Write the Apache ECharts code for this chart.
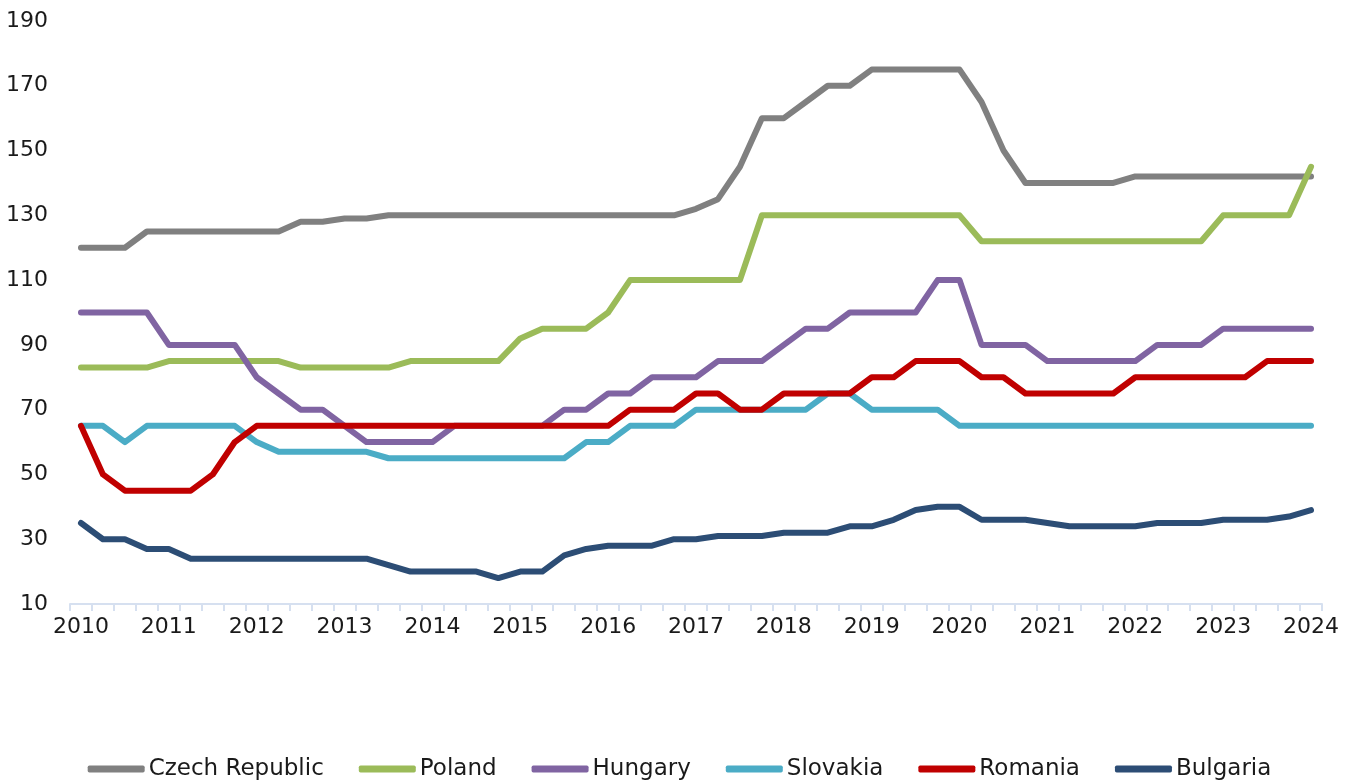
<!DOCTYPE html>
<html lang="en">
<head>
    <meta charset="UTF-8">
    <title>Chart</title>
    <script src="https://cdn.jsdelivr.net/npm/echarts@6/dist/echarts.min.js"></script>
    <style>
        html, body { margin: 0; padding: 0; background: #fff; }
        #main { width: 1359px; height: 783px; }
    </style>
</head>
<body>
<div id="main"></div>
<script type="text/javascript">
    // quarterly points, 2010Q1 .. 2024Q1
    var years = [2010, 2011, 2012, 2013, 2014, 2015, 2016, 2017, 2018, 2019, 2020, 2021, 2022, 2023, 2024];
    var quarters = ['Q1', 'Q2', 'Q3', 'Q4'];

    var czech = [120,120,120,125,125,125,125,125,125,125,128,128,129,129,130,130,130,130,130,130,
        130,130,130,130,130,130,130,130,132,135,145,160,160,165,170,170,175,175,175,175,
        175,165,150,140,140,140,140,140,142,142,142,142,142,142,142,142,142];
    var poland = [83,83,83,83,85,85,85,85,85,85,83,83,83,83,83,85,85,85,85,85,
        92,95,95,95,100,110,110,110,110,110,110,130,130,130,130,130,130,130,130,130,
        130,122,122,122,122,122,122,122,122,122,122,122,130,130,130,130,145];
    var hungary = [100,100,100,100,90,90,90,90,80,75,70,70,65,60,60,60,60,65,65,65,
        65,65,70,70,75,75,80,80,80,85,85,85,90,95,95,100,100,100,100,110,
        110,90,90,90,85,85,85,85,85,90,90,90,95,95,95,95,95];
    var slovakia = [65,65,60,65,65,65,65,65,60,57,57,57,57,57,55,55,55,55,55,55,
        55,55,55,60,60,65,65,65,70,70,70,70,70,70,75,75,70,70,70,70,
        65,65,65,65,65,65,65,65,65,65,65,65,65,65,65,65,65];
    var romania = [65,50,45,45,45,45,50,60,65,65,65,65,65,65,65,65,65,65,65,65,
        65,65,65,65,65,70,70,70,75,75,70,70,75,75,75,75,80,80,85,85,
        85,80,80,75,75,75,75,75,80,80,80,80,80,80,85,85,85];
    var bulgaria = [35,30,30,27,27,24,24,24,24,24,24,24,24,24,22,20,20,20,20,18,
        20,20,25,27,28,28,28,30,30,31,31,31,32,32,32,34,34,36,39,40,
        40,36,36,36,35,34,34,34,34,35,35,35,36,36,36,37,39];

    var seriesNames = ['Czech Republic', 'Poland', 'Hungary', 'Slovakia', 'Romania', 'Bulgaria'];
    var seriesColors = ['#808080', '#9BBB59', '#8064A2', '#4BACC6', '#C00000', '#2C4D75'];
    var seriesData = [czech, poland, hungary, slovakia, romania, bulgaria];

    var yMin = 10, yMax = 190, yStep = 20;

    // build category list (year + quarter), only up to 2024Q1
    var categories = [];
    for (var y = 0; y < years.length; y++) {
        for (var q = 0; q < quarters.length; q++) {
            if (categories.length < czech.length) {
                categories.push(years[y] + quarters[q]);
            }
        }
    }

    var fontName = '"DejaVu Sans", sans-serif';

    var myChart = echarts.init(document.getElementById('main'));

    var series = [];
    for (var i = 0; i < seriesNames.length; i++) {
        series.push({
            name: seriesNames[i],
            type: 'line',
            data: seriesData[i],
            symbol: 'none',
            smooth: false,
            color: seriesColors[i],
            lineStyle: { width: 6, color: seriesColors[i], cap: 'round', join: 'round' }
        });
    }

    var option = {
        animation: false,
        backgroundColor: '#ffffff',
        grid: { left: 70, right: 37, top: 21, bottom: 179, containLabel: false },
        legend: {
            top: 757,
            left: 'center',
            padding: 0,
            icon: 'roundRect',
            itemWidth: 57,
            itemHeight: 7,
            itemGap: 35,
            textStyle: { fontFamily: fontName, fontSize: 23, lineHeight: 24, color: '#1a1a1a', padding: [0, 0, 0, -1] },
            data: seriesNames
        },
        xAxis: {
            type: 'category',
            data: categories,
            boundaryGap: true,
            axisLine: { lineStyle: { color: '#D6E0F0', width: 2 } },
            axisTick: { show: true, interval: 0, length: 7, lineStyle: { color: '#D6E0F0', width: 2 } },
            axisLabel: {
                interval: 3,
                margin: 12,
                fontFamily: fontName,
                fontSize: 22,
                color: '#1a1a1a',
                formatter: function (v) { return v.slice(0, 4); }
            },
            splitLine: { show: false }
        },
        yAxis: {
            type: 'value',
            min: yMin,
            max: yMax,
            interval: yStep,
            axisLine: { show: false },
            axisTick: { show: false },
            splitLine: { show: false },
            axisLabel: { margin: 22, fontFamily: fontName, fontSize: 22, color: '#1a1a1a' }
        },
        series: series
    };

    myChart.setOption(option);
</script>
</body>
</html>
